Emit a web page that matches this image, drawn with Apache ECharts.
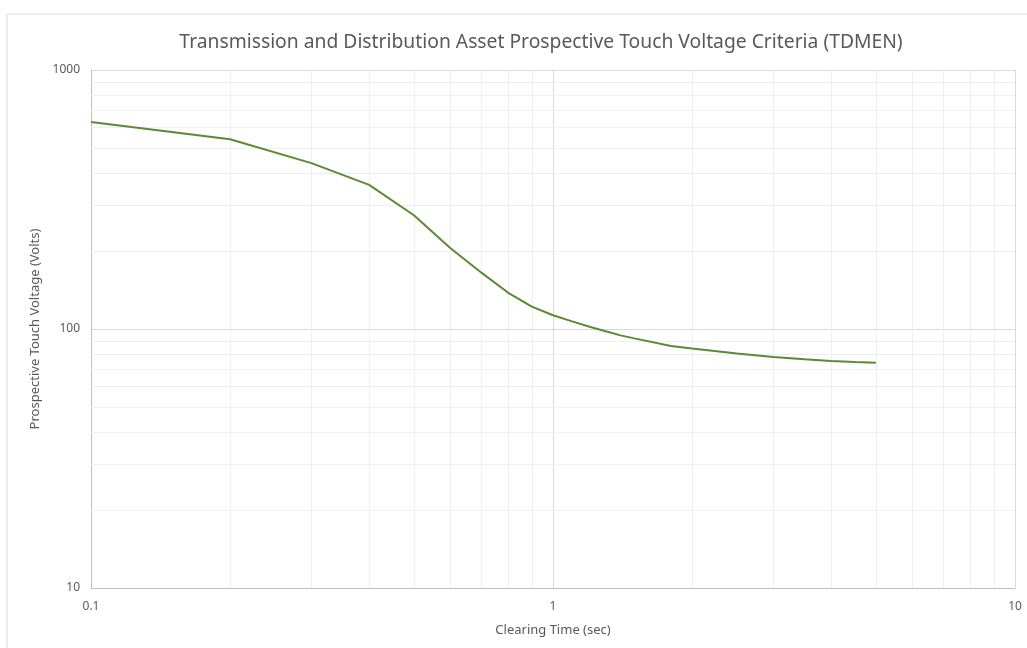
<!DOCTYPE html>
<html>
<head>
<meta charset="utf-8">
<script src="https://cdn.jsdelivr.net/npm/echarts@6/dist/echarts.min.js"></script>
<style>html,body{margin:0;padding:0;background:#fff}#c{width:1027px;height:648px}</style>
</head>
<body>
<div id="c"></div>
<script>
const clearingTime = [0.1, 0.2, 0.3, 0.4, 0.5, 0.6, 0.7, 0.8, 0.9, 1.0, 1.1, 1.2, 1.3, 1.4, 1.5, 1.8, 2.0, 2.5, 3.0, 3.5, 4.0, 4.5, 5.0];
const touchVoltage = [630, 540, 437, 360, 275, 205, 165, 138, 122, 113, 107, 102, 98, 94.5, 92, 86, 84, 80.5, 78, 76.5, 75.3, 74.5, 74];
const xMinorGrid = [0.2, 0.3, 0.4, 0.5, 0.6, 0.7, 0.8, 0.9, 2, 3, 4, 5, 6, 7, 8, 9];
const yMinorGrid = [20, 30, 40, 50, 60, 70, 80, 90, 200, 300, 400, 500, 600, 700, 800, 900];

const FONT = "'Noto Sans', sans-serif";
const chart = echarts.init(document.getElementById('c'), null, {renderer: 'canvas'});
const minorLines = [];
xMinorGrid.forEach(v => minorLines.push({xAxis: v}));
yMinorGrid.forEach(v => minorLines.push({yAxis: v}));

chart.setOption({
  animation: false,
  backgroundColor: '#fff',
  graphic: [{
    type: 'rect', left: 4.5, top: 11.5, z: -10,
    shape: {width: 1040, height: 660},
    style: {fill: 'none', stroke: '#d9d9d9', lineWidth: 1}
  }],
  title: {
    text: 'Transmission and Distribution Asset Prospective Touch Voltage Criteria (TDMEN)',
    left: 536, top: 28, textAlign: 'center',
    textStyle: {fontFamily: FONT, fontSize: 19.3, fontWeight: 'normal', color: '#595959'}
  },
  grid: {left: 91, right: 12, top: 70, bottom: 60, containLabel: false},
  xAxis: {
    type: 'log', logBase: 10, min: 0.1, max: 10,
    name: 'Clearing Time (sec)', nameLocation: 'middle', nameGap: 36,
    nameTextStyle: {fontFamily: FONT, fontSize: 13, color: '#595959', verticalAlign: 'top'},
    axisLine: {show: true, lineStyle: {color: '#bfbfbf'}},
    axisTick: {show: false},
    axisLabel: {fontFamily: FONT, fontSize: 12, color: '#595959', margin: 13, formatter: v => String(v)},
    splitLine: {show: true, lineStyle: {color: '#d9d9d9'}},
    minorTick: {show: false}, minorSplitLine: {show: false}
  },
  yAxis: {
    type: 'log', logBase: 10, min: 10, max: 1000,
    name: 'Prospective Touch Voltage (Volts)', nameLocation: 'middle', nameGap: 44,
    nameTextStyle: {fontFamily: FONT, fontSize: 13, color: '#595959'},
    axisLine: {show: true, lineStyle: {color: '#bfbfbf'}},
    axisTick: {show: false},
    axisLabel: {fontFamily: FONT, fontSize: 12, color: '#595959', margin: 11, formatter: v => String(v)},
    splitLine: {show: true, lineStyle: {color: '#d9d9d9'}}
  },
  series: [
    {
      type: 'line', data: [], z: 1, silent: true,
      markLine: {
        silent: true, symbol: 'none', animation: false,
        label: {show: false},
        lineStyle: {color: '#efefef', type: 'solid', width: 1},
        emphasis: {disabled: true},
        data: minorLines
      }
    },
    {
      type: 'line', z: 5,
      data: clearingTime.map((t, i) => [t, touchVoltage[i]]),
      showSymbol: false, smooth: false,
      lineStyle: {color: '#5b8a34', width: 2}
    }
  ]
});
</script>
</body>
</html>
